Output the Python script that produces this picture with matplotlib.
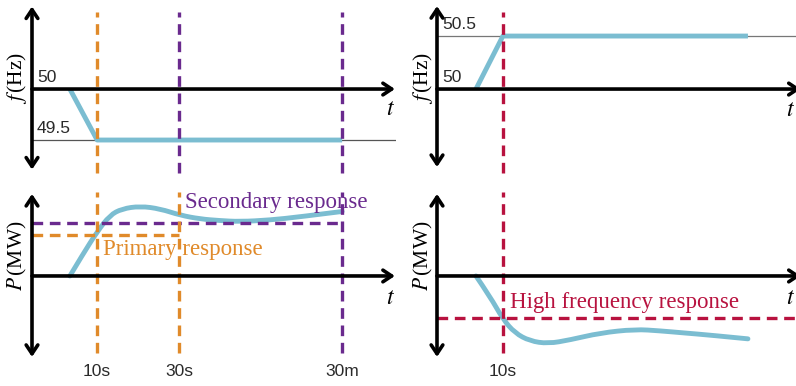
import matplotlib.pyplot as plt
from matplotlib.path import Path
from matplotlib.patches import PathPatch

plt.rcParams['mathtext.fontset'] = 'stix'

W, H = 796, 386

# time axis in arbitrary units (same scale on both sides)
t_marks_left = [17.9, 40.4, 85.2]
t_labels_left = ['10s', '30s', '30m']
t_marks_right = [18.1]
t_labels_right = ['10s']

# frequency traces (Hz)
f_drop_t = [10.4, 17.9, 85.2]
f_drop = [50.0, 49.5, 49.5]
f_rise_t = [10.7, 18.1, 85.4]
f_rise = [50.0, 50.5, 50.5]

# power traces (per unit of the secondary reserve)
p_up_t = [10.4, 14.0, 17.9, 21.4, 24.7, 29.7, 35.2, 40.7, 46.2, 51.5, 57.1, 65.4, 73.6, 85.2]
p_up = [0.0, 0.41, 0.83, 1.14, 1.26, 1.31, 1.26, 1.14, 1.07, 1.04, 1.02, 1.05, 1.11, 1.21]
p_down_t = [10.7, 14.6, 18.1, 21.4, 25.5, 30.5, 36.5, 44.8, 54.4, 61.3, 68.0, 75.0, 85.4]
p_down = [0.0, -0.39, -0.81, -1.07, -1.22, -1.27, -1.20, -1.07, -1.00, -1.03, -1.07, -1.11, -1.18]

primary_level = 0.77
secondary_level = 1.0
high_freq_level = -0.79

blue = '#7bbdd1'
orange = '#e08a2a'
purple = '#6a2a8e'
red = '#b8123f'
dash = (0, (3.2, 2.0))

fig = plt.figure(figsize=(W / 100, H / 100), dpi=100)


def panel(px0, px1, py0, py1, xlim, ylim):
    ax = fig.add_axes([px0 / W, 1 - py1 / H, (px1 - px0) / W, (py1 - py0) / H])
    ax.set_xlim(xlim)
    ax.set_ylim(ylim)
    ax.axis('off')
    return ax


def smooth_curve(ax, xs, ys, **kw):
    # quadratic bezier through the midpoints, the read points act as controls
    pts = list(zip(xs, ys))
    verts = [pts[0]]
    codes = [Path.MOVETO]
    for i in range(1, len(pts) - 1):
        mid = ((pts[i][0] + pts[i + 1][0]) / 2, (pts[i][1] + pts[i + 1][1]) / 2)
        if i == len(pts) - 2:
            mid = pts[-1]
        verts += [pts[i], mid]
        codes += [Path.CURVE3, Path.CURVE3]
    ax.add_patch(PathPatch(Path(verts, codes), fill=False, **kw))


def axis_arrows(ax, ytop, ybot, yzero, xend):
    ax.annotate('', xy=(0, ytop), xytext=(0, ybot), annotation_clip=False,
                arrowprops=dict(arrowstyle='<->,head_length=0.45,head_width=0.3',
                                lw=2.6, color='k', mutation_scale=14, shrinkA=0, shrinkB=0),
                zorder=6)
    ax.annotate('', xy=(xend, yzero), xytext=(0, yzero), annotation_clip=False,
                arrowprops=dict(arrowstyle='->,head_length=0.45,head_width=0.3',
                                lw=2.6, color='k', mutation_scale=14, shrinkA=0, shrinkB=0),
                zorder=6)


sans = dict(family='Liberation Sans', fontsize=12.5, color='#2a2a2a')
serif = dict(family='Liberation Serif', fontsize=16.5)

# ---- top left: frequency drop
ax1 = panel(32, 396, 0, 180, (0, 100), (49.108, 50.873))
ax1.plot([0, 100], [49.5, 49.5], color='#555555', lw=0.9, zorder=1)
ax1.plot(f_drop_t, f_drop, color=blue, lw=3.5, solid_capstyle='butt', zorder=2)
for i, tm in enumerate(t_marks_left):
    ax1.axvline(tm, ymin=0.039, ymax=0.933, color=orange if i == 0 else purple,
                lw=2.4, ls=dash, zorder=3)
axis_arrows(ax1, 50.81, 49.21, 50.0, 99.7)
ax1.text(1.4, 50.04, '50', va='bottom', **sans)
ax1.text(1.4, 49.54, '49.5', va='bottom', **sans)
ax1.text(98.4, 49.81, '$t$', ha='center', va='center', fontsize=17)

# ---- bottom left: power increase
ax2 = panel(32, 396, 180, 386, (0, 100), (-2.065, 1.801))
smooth_curve(ax2, p_up_t, p_up, edgecolor=blue, lw=3.5, capstyle='round', zorder=2)
ax2.plot([0, t_marks_left[1]], [primary_level] * 2, color=orange, lw=2.4, ls=dash, zorder=3)
ax2.plot([0, t_marks_left[2]], [secondary_level] * 2, color=purple, lw=2.4, ls=dash, zorder=3)
for i, tm in enumerate(t_marks_left):
    ax2.axvline(tm, ymin=0.160, ymax=0.942, color=orange if i < 2 else purple,
                lw=2.4, ls=dash, zorder=3)
axis_arrows(ax2, 1.54, -1.52, 0.0, 99.7)
ax2.text(98.4, -0.40, '$t$', ha='center', va='center', fontsize=17)
ax2.text(42.0, 1.28, 'Secondary response', color=purple, va='baseline', **serif)
ax2.text(19.5, 0.39, 'Primary response', color=orange, va='baseline', **serif)
for tm, lab in zip(t_marks_left, t_labels_left):
    ax2.text(tm, -1.80, lab, ha='center', va='center', **sans)

# ---- top right: frequency rise
ax3 = panel(437, 796, 0, 180, (0, 98.6), (49.142, 50.840))
ax3.plot([0, 98.6], [50.5, 50.5], color='#777777', lw=0.9, zorder=1)
ax3.plot(f_rise_t, f_rise, color=blue, lw=3.5, solid_capstyle='butt', zorder=2)
ax3.axvline(t_marks_right[0], ymin=0.039, ymax=0.933, color=red, lw=2.4, ls=dash, zorder=3)
axis_arrows(ax3, 50.783, 49.264, 50.0, 99.9)
ax3.text(1.4, 50.04, '50', va='bottom', **sans)
ax3.text(1.4, 50.54, '50.5', va='bottom', **sans)
ax3.text(97.2, 49.81, '$t$', ha='center', va='center', fontsize=17)

# ---- bottom right: power decrease
ax4 = panel(437, 796, 180, 386, (0, 98.6), (-2.065, 1.801))
smooth_curve(ax4, p_down_t, p_down, edgecolor=blue, lw=3.5, capstyle='round', zorder=2)
ax4.plot([0, 98.6], [high_freq_level] * 2, color=red, lw=2.4, ls=dash, zorder=3)
ax4.axvline(t_marks_right[0], ymin=0.160, ymax=0.942, color=red, lw=2.4, ls=dash, zorder=3)
axis_arrows(ax4, 1.54, -1.52, 0.0, 99.9)
ax4.text(97.2, -0.40, '$t$', ha='center', va='center', fontsize=17)
ax4.text(20.1, -0.60, 'High frequency response', color=red, va='baseline', **serif)
for tm, lab in zip(t_marks_right, t_labels_right):
    ax4.text(tm, -1.80, lab, ha='center', va='center', **sans)

# ---- axis titles
for px, py, lab in [(17, 78, r'$f\,$(Hz)'), (17, 256, r'$P\,$(MW)'),
                    (423, 78, r'$f\,$(Hz)'), (423, 256, r'$P\,$(MW)')]:
    fig.text(px / W, 1 - py / H, lab, rotation=90, ha='center', va='center',
             family='Liberation Serif', fontsize=15.5)

plt.savefig('out.png', dpi=100)
